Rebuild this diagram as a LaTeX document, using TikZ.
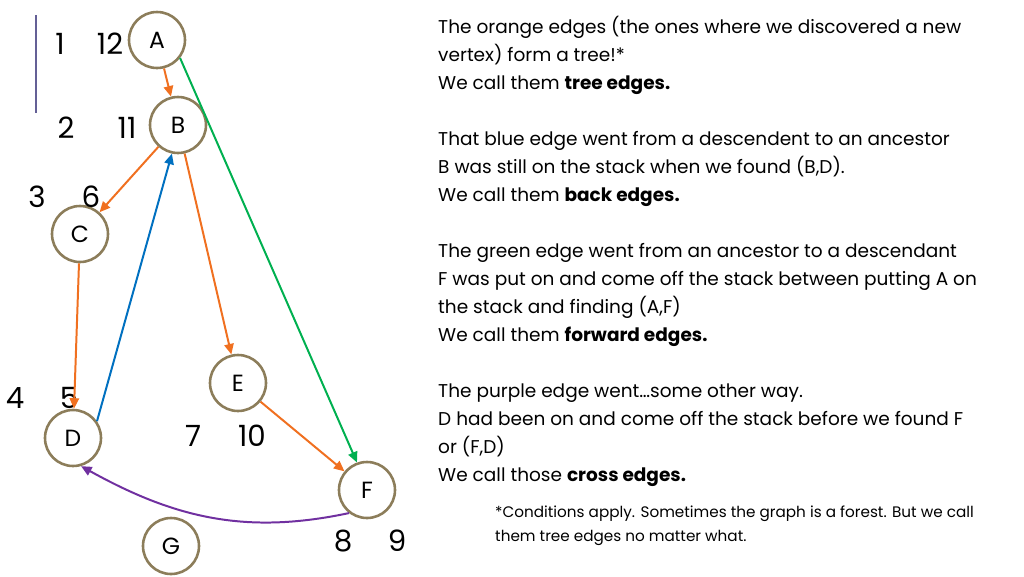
\documentclass[tikz,border=0pt]{standalone}
\usepackage{fontspec}
\setmainfont{Poppins}
\usetikzlibrary{arrows.meta}
\definecolor{treeorange}{RGB}{240,112,32}
\definecolor{backblue}{RGB}{0,112,192}
\definecolor{fwdgreen}{RGB}{0,176,80}
\definecolor{crosspurple}{RGB}{112,48,160}
\definecolor{vtxtan}{RGB}{140,125,90}
\definecolor{barslate}{RGB}{100,96,150}

\begin{document}
\begin{tikzpicture}[
		x=0.03cm, y=-0.03cm,
		vertex/.style={circle,draw=vtxtan,line width=2.2pt,minimum size=1.68cm,inner sep=0pt,font=\fontsize{20}{20}\selectfont},
		stamp/.style={font=\fontsize{25}{25}\selectfont,inner sep=0pt},
		edge/.style={line width=1.7pt,-{Triangle[length=9pt,width=8pt]}},
		para/.style={anchor=north west,inner sep=0pt,align=left,font=\fontsize{15.8}{23.9}\selectfont}
		]
		\useasboundingbox (0,0) rectangle (1024,576);
		\draw[barslate,line width=1.5pt] (36,15) -- (36,113);
		% vertices
		\node[vertex] (A) at (157,40) {A};
		\node[vertex] (B) at (178,125) {B};
		\node[vertex] (C) at (80,234) {C};
		\node[vertex] (D) at (73,438) {D};
		\node[vertex] (E) at (238,383) {E};
		\node[vertex] (F) at (367,490) {F};
		\node[vertex] (G) at (171,546) {G};
		% start and finish times
		\node[stamp] (A1) at (60,44) {1};
		\node[stamp] (A2) at (110,44) {12};
		\node[stamp] (B1) at (66,128) {2};
		\node[stamp] (B2) at (127,128) {11};
		\node[stamp] (C1) at (37,197) {3};
		\node[stamp] (C2) at (91,197) {6};
		\node[stamp] (D1) at (15,398) {4};
		\node[stamp] (D2) at (69,398) {5};
		\node[stamp] (E1) at (193,436) {7};
		\node[stamp] (E2) at (252,436) {10};
		\node[stamp] (F1) at (343,541) {8};
		\node[stamp] (F2) at (397,541) {9};
		% edges
		\draw[edge,treeorange] (A) -- (B);
		\draw[edge,treeorange] (B) -- (C);
		\draw[edge,treeorange] (B) -- (E);
		\draw[edge,treeorange] (C) -- (D);
		\draw[edge,treeorange] (E) -- (F);
		\draw[edge,backblue] (D.35) -- (B.-102);
		\draw[edge,fwdgreen] (A.-38) -- (F.110);
		\draw[edge,crosspurple] (F.-128) to[out=192,in=-29] (D.-74);
		% explanation
		\node[para] (T1) at (438,16) {The orange edges (the ones where we discovered a new\\vertex) form a tree!*\\We call them \textbf{tree edges.}};
		\node[para] (T2) at (438,131) {That blue edge went from a descendent to an ancestor\\B was still on the stack when we found (B,D).\\We call them \textbf{back edges.}};
		\node[para] (T3) at (438,243) {The green edge went from an ancestor to a descendant\\F was put on and come off the stack between putting A on\\the stack and finding (A,F)\\We call them \textbf{forward edges.}};
		\node[para] (T4) at (438,384) {The purple edge went\ldots some other way.\\D had been on and come off the stack before we found F\\or (F,D)\\We call those \textbf{cross edges.}};
		\node[para,font=\fontsize{13}{20.5}\selectfont] (T5) at (495,506) {*Conditions apply. Sometimes the graph is a forest. But we call\\them tree edges no matter what.};
\end{tikzpicture}
\end{document}
